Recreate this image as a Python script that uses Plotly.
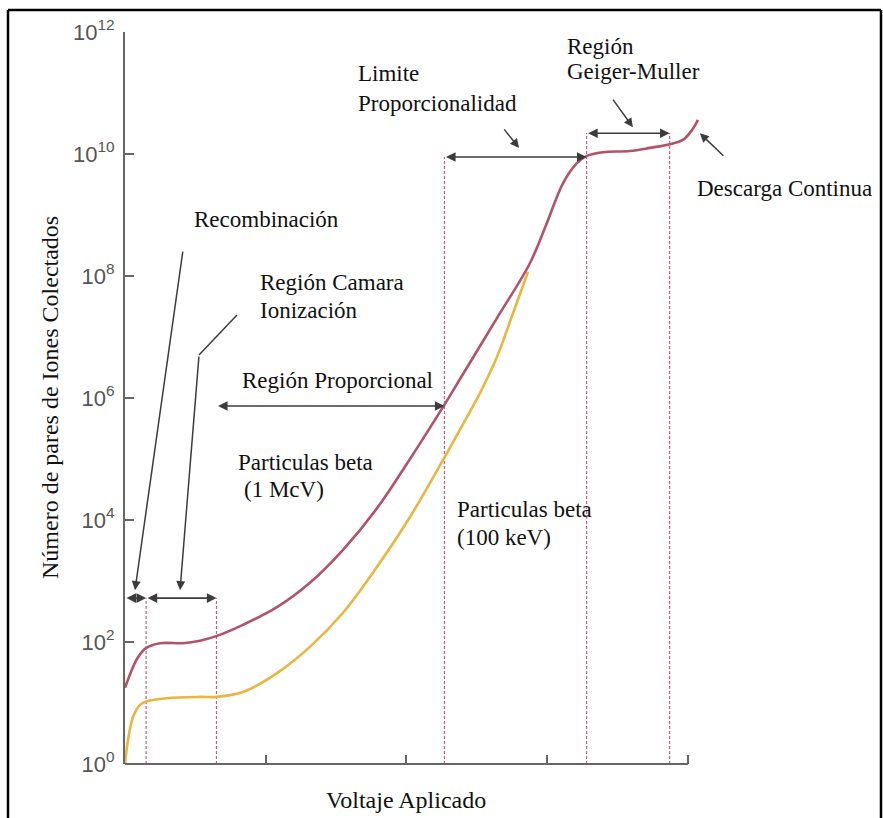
import plotly.graph_objects as go

# ---------------- data ----------------
voltage_1mev = [0, 0.057, 0.092, 0.149, 0.249, 0.412, 0.533, 0.654, 0.838, 1.080, 1.314, 1.549,
                1.790, 2.025, 2.259, 2.401, 2.643, 2.877, 2.998, 3.112, 3.211, 3.282, 3.396,
                3.588, 3.730, 3.872, 3.964, 4.028, 4.071]
pairs_1mev = [17.8, 38.9, 56.2, 79.4, 95.5, 95.5, 105, 126, 191, 372, 933, 3.24e3,
              1.55e4, 1.00e5, 7.08e5, 2.45e6, 2.04e7, 1.62e8, 7.41e8, 3.31e9, 7.08e9, 9.33e9, 1.07e10,
              1.12e10, 1.26e10, 1.45e10, 1.70e10, 2.45e10, 3.63e10]

voltage_100kev = [0, 0.021, 0.057, 0.107, 0.156, 0.298, 0.533, 0.654, 0.838, 1.080, 1.314, 1.549,
                  1.790, 2.025, 2.259, 2.380, 2.522, 2.643, 2.757, 2.842, 2.863]
pairs_100kev = [1.0, 2.45, 5.89, 9.33, 10.7, 12.0, 12.6, 12.6, 15.1, 30.9, 83.2, 302,
                1.70e3, 1.12e4, 9.55e4, 3.02e5, 1.20e6, 4.68e6, 2.45e7, 8.51e7, 1.17e8]

# region boundaries (applied voltage) and the height where each marker ends
region_bounds = [0.15, 0.65, 2.27, 3.28, 3.87]
region_tops = [5.2e2, 5.2e2, 8.9e9, 2.2e10, 2.2e10]

y_tickvals = [1, 1e2, 1e4, 1e6, 1e8, 1e10, 1e12]
y_ticktext = ["10<sup>0</sup>", "10<sup>2</sup>", "10<sup>4</sup>", "10<sup>6</sup>",
              "10<sup>8</sup>", "10<sup>10</sup>", "10<sup>12</sup>"]
x_tickvals = [1, 2, 3, 4]

# ---------------- layout helpers ----------------
L, T, PW, PH = 125, 32, 577, 732
def px(x):
    return (x - L) / PW
def py(y):
    return (T + PH - y) / PH

RED = "#b3526b"
YEL = "#e9b640"
DASH = "#c4607e"
ARROW = "#3c3c3c"
SERIF = "Liberation Serif, Times New Roman, serif"

fig = go.Figure()

# vertical dotted region lines
for xb, top in zip(region_bounds, region_tops):
    fig.add_trace(go.Scatter(x=[xb, xb], y=[1, top], mode="lines",
                             line=dict(color=DASH, width=1.2, dash="3px,2px"),
                             hoverinfo="skip", showlegend=False))

fig.add_trace(go.Scatter(x=voltage_100kev, y=pairs_100kev, mode="lines",
                         line=dict(color=YEL, width=2.6, shape="spline", smoothing=1.0),
                         name="Particulas beta (100 keV)", showlegend=False))
fig.add_trace(go.Scatter(x=voltage_1mev, y=pairs_1mev, mode="lines",
                         line=dict(color=RED, width=2.6, shape="spline", smoothing=1.0),
                         name="Particulas beta (1 McV)", showlegend=False))

annotations = []

def text(t, x, y, size=23, xanchor="left"):
    annotations.append(dict(text=t, x=px(x), y=py(y), xref="paper", yref="paper",
                            xanchor=xanchor, yanchor="middle", showarrow=False,
                            font=dict(family=SERIF, size=size, color="#111")))

def harrow(x0, x1, ylog):
    annotations.append(dict(text="", x=x1, y=ylog, xref="x", yref="y",
                            ax=x0, ay=0, axref="x", ayref="pixel",
                            showarrow=True, arrowside="end+start", arrowhead=2,
                            arrowsize=1.2, arrowwidth=1.6, arrowcolor=ARROW))

def pointer(x, ylog, dx, dy):
    annotations.append(dict(text="", x=x, y=ylog, xref="x", yref="y",
                            ax=dx, ay=dy, axref="pixel", ayref="pixel",
                            showarrow=True, arrowhead=2, arrowsize=1.2,
                            arrowwidth=1.5, arrowcolor=ARROW))

# region extent arrows (log10 heights for annotations on a log axis)
harrow(0, region_bounds[0], 2.72)
harrow(region_bounds[0], region_bounds[1], 2.72)
harrow(region_bounds[1], region_bounds[2], 5.87)
harrow(region_bounds[2], region_bounds[3], 9.95)
harrow(region_bounds[3], region_bounds[4], 10.34)

# pointer arrows
pointer(0.071, 2.85, 48, -340)      # Recombinación
pointer(0.391, 2.85, 19, -235)      # Ionización
pointer(2.80, 10.10, -16, -20)      # Limite
pointer(3.609, 10.44, -21, -29)     # Geiger-Muller
pointer(4.085, 10.34, 25, 24)       # Descarga

# labels
text("Recombinación", 192, 220)
text("Región Camara", 258, 282)
text("Ionización", 258, 310)
text("Región Proporcional", 240, 380)
text("Particulas beta", 236, 463)
text("(1 McV)", 242, 490)
text("Particulas beta", 455, 510)
text("(100 keV)", 455, 537)
text("Limite", 356, 73)
text("Proporcionalidad", 356, 103)
text("Región", 565, 47)
text("Geiger-Muller", 565, 72)
text("Descarga Continua", 695, 188)
text("Voltaje Aplicado", 406, 800, size=24, xanchor="center")
annotations.append(dict(text="Número de pares de Iones Colectados", x=px(50), y=py(398),
                        xref="paper", yref="paper", xanchor="center", yanchor="middle",
                        textangle=-90, showarrow=False,
                        font=dict(family=SERIF, size=24, color="#111")))

shapes = [
    # bent part of the Ionización pointer
    dict(type="line", xref="paper", yref="paper", x0=px(199), y0=py(355), x1=px(237), y1=py(315),
         line=dict(color=ARROW, width=1.5)),
    # x axis line (ends at the last tick)
    dict(type="line", xref="x", yref="paper", x0=0, x1=4, y0=0, y1=0,
         line=dict(color="#666", width=2)),
    # outer frame
    dict(type="line", xref="paper", yref="paper", x0=px(8), x1=px(8), y0=py(10), y1=py(830),
         line=dict(color="#000", width=2.5)),
    dict(type="line", xref="paper", yref="paper", x0=px(8), x1=px(881), y0=py(10), y1=py(10),
         line=dict(color="#000", width=2.5)),
    dict(type="line", xref="paper", yref="paper", x0=px(881), x1=px(881), y0=py(10), y1=py(830),
         line=dict(color="#000", width=2.5)),
]

fig.update_layout(
    width=883, height=818,
    margin=dict(l=L, r=883 - L - PW, t=T, b=818 - T - PH),
    paper_bgcolor="white", plot_bgcolor="white",
    annotations=annotations, shapes=shapes,
    xaxis=dict(range=[0, 4.1], showline=False, showgrid=False, zeroline=False,
               tickvals=x_tickvals, showticklabels=False, ticks="inside",
               ticklen=9, tickwidth=2, tickcolor="#666"),
    yaxis=dict(type="log", range=[0, 12], showline=True, linecolor="#666", linewidth=2,
               showgrid=False, zeroline=False, tickvals=y_tickvals, ticktext=y_ticktext,
               ticks="inside", ticklen=9, tickwidth=2, tickcolor="#666", ticklabelstandoff=4,
               tickfont=dict(family="Liberation Sans, Arial, sans-serif", size=22, color="#555")),
    showlegend=False,
)

fig.write_html("out.html", config={"displayModeBar": False},
               post_script="document.body.style.margin='0px';document.body.style.overflow='hidden';")
